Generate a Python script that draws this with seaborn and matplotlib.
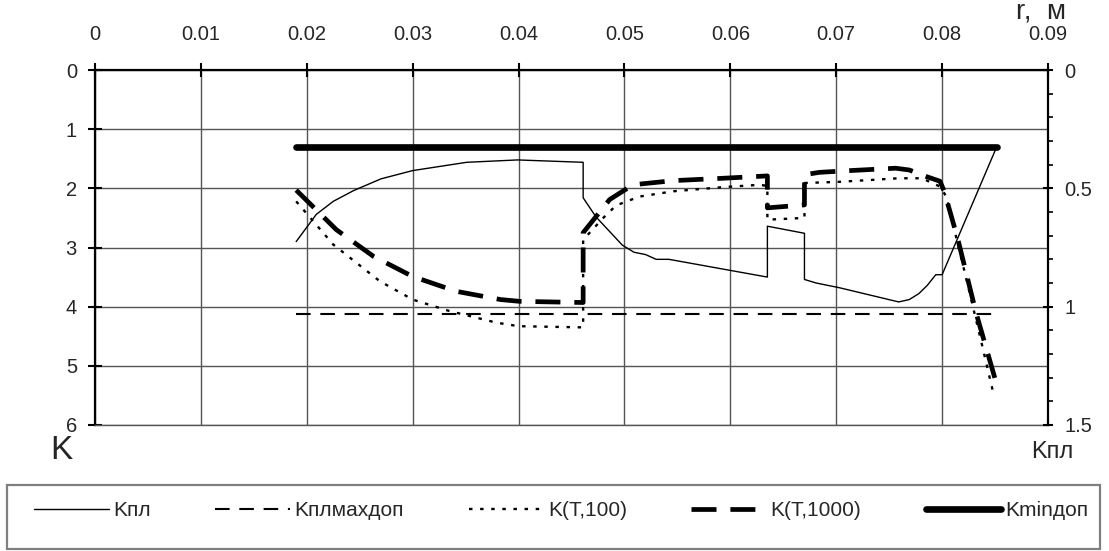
import matplotlib
matplotlib.use("Agg")
import matplotlib.pyplot as plt
from matplotlib.lines import Line2D
from matplotlib.patches import Rectangle
from matplotlib.ticker import MultipleLocator, FixedLocator
import seaborn as sns
import pandas as pd

sns.set_style("white")
plt.rcParams["font.family"] = ["Liberation Sans", "DejaVu Sans"]
plt.rcParams["lines.scale_dashes"] = False

# ---------------- data ----------------
x_ticks = [0, 0.01, 0.02, 0.03, 0.04, 0.05, 0.06, 0.07, 0.08, 0.09]
x_tick_labels = ["0", "0.01", "0.02", "0.03", "0.04", "0.05", "0.06", "0.07", "0.08", "0.09"]
k_ticks = [0, 1, 2, 3, 4, 5, 6]
kpl_ticks = [0, 0.5, 1, 1.5]
kpl_tick_labels = ["0", "0.5", "1", "1.5"]

# Kпл (right axis)
kpl_r = [0.0190, 0.0209, 0.0225, 0.0244, 0.0270, 0.0300, 0.0351, 0.0399, 0.0461, 0.0461,
         0.0473, 0.0498, 0.0509, 0.0520, 0.0530, 0.0542, 0.0635, 0.0635, 0.0670, 0.0670,
         0.0681, 0.0703, 0.0759, 0.0769, 0.0778, 0.0786, 0.0794, 0.0800, 0.0852]
kpl_v = [0.725, 0.61, 0.555, 0.51, 0.46, 0.425, 0.39, 0.38, 0.39, 0.54,
         0.62, 0.74, 0.77, 0.78, 0.80, 0.80, 0.875, 0.66, 0.69, 0.885,
         0.90, 0.92, 0.98, 0.97, 0.945, 0.91, 0.865, 0.865, 0.32]

# Kплмахдоп (left axis)
kmax_r = [0.0190, 0.0852]
kmax_v = [4.13, 4.13]

# K(T,100)
k100_r = [0.0190, 0.0225, 0.0269, 0.0300, 0.0334, 0.0379, 0.0400, 0.0461, 0.0461, 0.0480,
          0.0492, 0.0514, 0.0546, 0.0593, 0.0628, 0.0635, 0.0635, 0.0670, 0.0670, 0.0703,
          0.0759, 0.0781, 0.0798, 0.0804, 0.0823, 0.0838, 0.0849]
k100_v = [2.22, 2.95, 3.57, 3.88, 4.07, 4.27, 4.33, 4.35, 2.87, 2.50,
          2.29, 2.14, 2.05, 1.98, 1.94, 1.96, 2.53, 2.50, 1.91, 1.89,
          1.83, 1.83, 1.97, 2.14, 3.54, 4.67, 5.51]

# K(T,1000)
k1000_r = [0.0190, 0.0228, 0.0263, 0.0300, 0.0341, 0.0383, 0.0401, 0.0461, 0.0461, 0.0486,
           0.0508, 0.0546, 0.0593, 0.0635, 0.0635, 0.0670, 0.0670, 0.0684, 0.0713, 0.0756,
           0.0769, 0.0785, 0.0798, 0.0802, 0.0815, 0.0832, 0.0851]
k1000_v = [2.03, 2.70, 3.15, 3.49, 3.74, 3.88, 3.91, 3.93, 2.75, 2.19,
           1.94, 1.87, 1.83, 1.79, 2.33, 2.28, 1.77, 1.73, 1.70, 1.66,
           1.69, 1.80, 1.88, 2.05, 2.87, 4.10, 5.28]

# Kminдоп
kmin_r = [0.0190, 0.0852]
kmin_v = [1.30, 1.30]

labels = ["Kпл", "Kплмахдоп", "K(T,100)", "K(T,1000)", "Kminдоп"]

# ---------------- styles ----------------
st_kpl = dict(color="black", linewidth=1.0, linestyle="-")
st_kmax = dict(color="black", linewidth=1.5, linestyle=(0, (10.5, 7)))
st_k100 = dict(color="black", linewidth=1.7, linestyle=(0, (2.5, 5.5)))
st_k1000 = dict(color="black", linewidth=3.4, linestyle=(0, (18, 10)))
st_kmin = dict(color="black", linewidth=4.8, linestyle="-", solid_capstyle="round")

fig = plt.figure(figsize=(11.09, 5.51), dpi=100)
ax = fig.add_axes([95 / 1109, 1 - 425 / 551, (1048 - 95) / 1109, (425 - 70) / 551])
ax2 = ax.twinx()

def draw(a, xs, ys, st):
    df = pd.DataFrame({"r": xs, "v": ys})
    sns.lineplot(data=df, x="r", y="v", ax=a, sort=False, estimator=None,
                 legend=False, **st)

draw(ax, kmin_r, kmin_v, st_kmin)
draw(ax, kmax_r, kmax_v, st_kmax)
draw(ax, k100_r, k100_v, st_k100)
draw(ax, k1000_r, k1000_v, st_k1000)
draw(ax2, kpl_r, kpl_v, st_kpl)

ax.set_xlim(0, 0.09)
ax.set_ylim(6, 0)
ax2.set_ylim(1.5, 0)
ax.set_xlabel("")
ax.set_ylabel("")
ax2.set_ylabel("")

ax.xaxis.tick_top()
ax.set_xticks(x_ticks)
ax.set_xticklabels(x_tick_labels)
ax.set_yticks(k_ticks)
ax.set_yticklabels([str(k) for k in k_ticks])
ax2.yaxis.set_major_locator(FixedLocator(kpl_ticks))
ax2.set_yticklabels(kpl_tick_labels)
ax2.yaxis.set_minor_locator(MultipleLocator(0.1))

ax.grid(True, color="#555555", linewidth=1.0)
ax2.grid(False)

ax.tick_params(axis="x", which="major", direction="inout", length=10, width=1.5,
               pad=14, labelsize=14.5, top=True, bottom=False, color="black")
ax.tick_params(axis="y", which="major", direction="inout", length=10, width=1.5,
               pad=8, labelsize=14.5, left=True, right=False, color="black")
ax2.tick_params(axis="y", which="major", direction="inout", length=7, width=1.5,
                pad=8.5, labelsize=14.5, right=True, color="black")
ax2.tick_params(axis="y", which="minor", direction="out", length=3.6, width=1.2,
                right=True, color="black")

for name, sp in ax.spines.items():
    sp.set_visible(True)
ax.spines["left"].set_color("black")
ax.spines["left"].set_linewidth(1.6)
ax.spines["top"].set_color("black")
ax.spines["top"].set_linewidth(1.6)
ax.spines["bottom"].set_color("#555555")
ax.spines["bottom"].set_linewidth(1.0)
ax.spines["right"].set_visible(False)
for name in ["left", "top", "bottom"]:
    ax2.spines[name].set_visible(False)
ax2.spines["right"].set_visible(True)
ax2.spines["right"].set_color("black")
ax2.spines["right"].set_linewidth(1.6)

# axis captions
fig.text(50 / 1109, 1 - 459 / 551, "K", fontsize=24, ha="left", va="baseline")
fig.text(1031 / 1109, 1 - 458 / 551, "Kпл", fontsize=17, ha="left", va="baseline")
fig.text(1066 / 1109, 1 - 19 / 551, "r,  м", fontsize=20, ha="right", va="baseline")

# legend box + legend
fig.patches.append(Rectangle((7 / 1109, 2 / 551), 1093 / 1109, 64 / 551,
                             transform=fig.transFigure, fill=False,
                             edgecolor="#7f7f7f", linewidth=1.6))
handles = [Line2D([], [], **st_kpl), Line2D([], [], **st_kmax),
           Line2D([], [], **st_k100), Line2D([], [], **st_k1000),
           Line2D([], [], **st_kmin)]
fig.legend(handles, labels, loc="center", bbox_to_anchor=(0.506, 1 - 511 / 551),
           ncol=5, frameon=False, fontsize=15, handlelength=3.6,
           handletextpad=0.2, columnspacing=3.1)

fig.savefig("out.png", dpi=100)
